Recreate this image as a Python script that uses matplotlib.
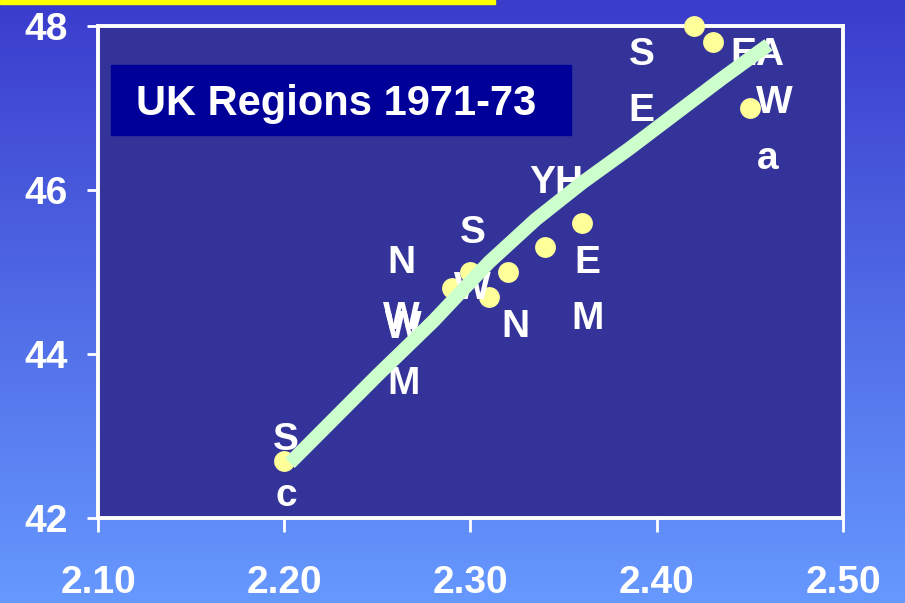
import numpy as np
import matplotlib
matplotlib.use("Agg")
import matplotlib.pyplot as plt
from matplotlib.patches import Rectangle

plt.rcParams['font.family'] = ['Liberation Sans', 'DejaVu Sans']
plt.rcParams['font.weight'] = 'bold'

# === data ===
regions = ['Sc', 'NW', 'SW', 'WM', 'N', 'YH', 'EM', 'SE', 'EA', 'Wa']
x_vals = [2.20, 2.29, 2.30, 2.32, 2.31, 2.34, 2.36, 2.42, 2.43, 2.45]
y_vals = [42.7, 44.8, 45.0, 45.0, 44.7, 45.3, 45.6, 48.0, 47.8, 47.0]

# labels as drawn on the slide (text, x, y of top), positioned by hand
label_text = ['S\nc', 'N\nW', 'W\nM', 'S\nW', 'N', 'YH', 'E\nM', 'S\nE', 'EA', 'W\na']
label_x = [2.201, 2.263, 2.264, 2.301, 2.324, 2.346, 2.363, 2.392, 2.454, 2.4535]
label_y = [43.17, 45.33, 44.54, 45.70, 44.55, 46.30, 45.33, 47.87, 47.87, 47.28]
label_ha = ['center'] * 9 + ['left']

# smoothed trend line
fit_x = [2.203, 2.25, 2.28, 2.31, 2.335, 2.36, 2.385, 2.41, 2.435, 2.46]
fit_y = [42.67, 43.74, 44.40, 45.12, 45.64, 46.09, 46.50, 46.93, 47.36, 47.77]

x_ticks = [2.10, 2.20, 2.30, 2.40, 2.50]
y_ticks = [42, 44, 46, 48]

fig = plt.figure(figsize=(9.05, 6.03), dpi=100)

# === background gradient ===
bg = fig.add_axes([0, 0, 1, 1], zorder=-10)
top = np.array([58, 60, 204]) / 255
bot = np.array([102, 153, 255]) / 255
t = np.linspace(0, 1, 256)[:, None]
grad = (top[None, :] * (1 - t) + bot[None, :] * t)[:, None, :]
bg.imshow(grad, aspect='auto', extent=[0, 1, 0, 1])
bg.axis('off')

fig.patches.append(Rectangle((0, 1 - 4 / 603), 495 / 905, 4 / 603,
                             transform=fig.transFigure, color='#ffff00', zorder=5))

# === main axes ===
ax = fig.add_axes([98 / 905, 85 / 603, 745 / 905, 492 / 603])
ax.set_facecolor('#333399')
ax.set_xlim(2.10, 2.50)
ax.set_ylim(42, 48)

ax.plot(x_vals, y_vals, 'o', color='#ffff99', markersize=15, markeredgewidth=0,
        clip_on=False, zorder=3)

for txt, lx, ly, ha in zip(label_text, label_x, label_y, label_ha):
    ax.text(lx, ly, txt, color='white', fontsize=28, fontweight='bold',
            ha=ha, va='top', linespacing=1.72, multialignment=ha, zorder=4)

ax.plot(fit_x, fit_y, color='#ccffcc', linewidth=10, solid_capstyle='butt',
        solid_joinstyle='round', zorder=5)

for s in ax.spines.values():
    s.set_color('white')
    s.set_linewidth(2.8)

ax.set_xticks(x_ticks)
ax.set_xticklabels([f'{v:.2f}' for v in x_ticks])
ax.set_yticks(y_ticks)
ax.set_yticklabels([str(v) for v in y_ticks])
ax.tick_params(axis='x', colors='white', labelsize=28, length=10, width=2, pad=24)
ax.tick_params(axis='y', colors='white', labelsize=28, length=8, width=2, pad=14)
for lab in ax.get_xticklabels() + ax.get_yticklabels():
    lab.set_fontweight('bold')

# === title box ===
fig.patches.append(Rectangle((111 / 905, (603 - 135) / 603), 460 / 905, 70 / 603,
                             transform=fig.transFigure, color='#000099', zorder=6))
fig.text(336.5 / 905, (603 - 115) / 603, 'UK Regions 1971-73', color='white',
         fontsize=30, fontweight='bold', ha='center', va='baseline', zorder=7)

fig.savefig('out.png', dpi=100)
